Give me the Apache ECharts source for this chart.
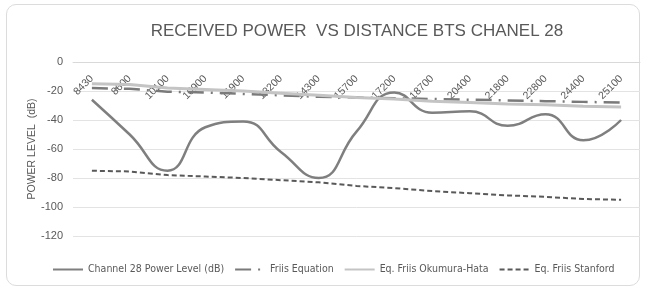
<!DOCTYPE html>
<html>
<head>
<meta charset="utf-8">
<script src="https://cdn.jsdelivr.net/npm/echarts@6/dist/echarts.min.js"></script>
<style>
  html, body { margin: 0; padding: 0; background: #fff; }
  .card {
    position: absolute; left: 6px; top: 4px; width: 634px; height: 282px;
    border: 1px solid #dcdcdc; border-radius: 10px; box-sizing: border-box;
  }
  #chart { position: absolute; left: 0; top: 0; width: 647px; height: 292px; }
</style>
</head>
<body>
<div class="card"></div>
<div id="chart"></div>
<script>
// distances (x axis)
var distances = ['8430', '8600', '10100', '10900', '11900', '13200', '14300', '15700',
  '17200', '18700', '20400', '21800', '22800', '24400', '25100'];
// measured level
var channel28 = [-26, -50, -75, -45, -41, -62, -80, -48, -21, -35, -34, -44, -36, -54, -40];
// models
var friis = [-18, -18.5, -20.5, -21, -22, -23, -24, -24.5, -25, -25.5, -26, -26.5, -27, -27.5, -28];
var okumuraHata = [-15, -15.5, -18, -19, -20, -21.5, -23, -24.5, -25.5, -27, -28, -29, -29.5, -30.5, -31];
var stanford = [-75, -75.5, -78, -79, -80, -81.5, -83, -85.5, -87, -89, -90.5, -92, -93, -94.5, -95];

var myChart = echarts.init(document.getElementById('chart'));
myChart.setOption({
  animation: false,
  title: {
    text: 'RECEIVED POWER  VS DISTANCE BTS CHANEL 28',
    left: 352,
    textAlign: 'center',
    top: 18,
    textStyle: {
      fontFamily: '"Liberation Sans Narrow", "Arial Narrow", sans-serif',
      fontSize: 17,
      fontWeight: 'normal',
      color: '#595959'
    }
  },
  legend: {
    left: 47,
    top: 259,
    itemWidth: 30,
    itemHeight: 10,
    itemGap: 10,
    itemStyle: { opacity: 0 },
    textStyle: { fontSize: 10.5, color: '#595959', fontFamily: '"DejaVu Sans Condensed", sans-serif' },
    data: ['Channel 28 Power Level (dB)', 'Friis Equation', 'Eq. Friis Okumura-Hata', 'Eq. Friis Stanford']
  },
  grid: { left: 73, right: 7, top: 62, bottom: 56 },
  xAxis: {
    type: 'category',
    position: 'top',
    data: distances,
    boundaryGap: true,
    axisLine: { lineStyle: { color: '#d9d9d9' } },
    axisTick: { show: false },
    axisLabel: {
      inside: true, rotate: 45, margin: 15, align: 'right', verticalAlign: 'middle',
      fontSize: 10.5, color: '#595959'
    }
  },
  yAxis: {
    type: 'value',
    min: -120,
    max: 0,
    interval: 20,
    name: 'POWER LEVEL  (dB)',
    nameLocation: 'middle',
    nameGap: 35,
    nameMoveOverlap: false,
    nameTextStyle: { fontSize: 10.5, color: '#595959' },
    axisLabel: { fontSize: 11, color: '#595959', margin: 10 },
    splitLine: { lineStyle: { color: '#e3e3e3' } }
  },
  series: [
    {
      name: 'Channel 28 Power Level (dB)',
      type: 'line',
      smooth: 0.5,
      symbol: 'none',
      data: channel28,
      lineStyle: { color: '#7f7f7f', width: 2.5 },
      itemStyle: { color: '#7f7f7f' }
    },
    {
      name: 'Friis Equation',
      type: 'line',
      symbol: 'none',
      data: friis,
      lineStyle: { color: '#7a7a7a', width: 2.5, type: [16, 7, 2, 7] },
      itemStyle: { color: '#7a7a7a' }
    },
    {
      name: 'Eq. Friis Okumura-Hata',
      type: 'line',
      symbol: 'none',
      data: okumuraHata,
      lineStyle: { color: '#c4c4c4', width: 3 },
      itemStyle: { color: '#c4c4c4' }
    },
    {
      name: 'Eq. Friis Stanford',
      type: 'line',
      symbol: 'none',
      data: stanford,
      lineStyle: { color: '#595959', width: 2, type: [5, 3] },
      itemStyle: { color: '#595959' }
    }
  ]
});
</script>
</body>
</html>
